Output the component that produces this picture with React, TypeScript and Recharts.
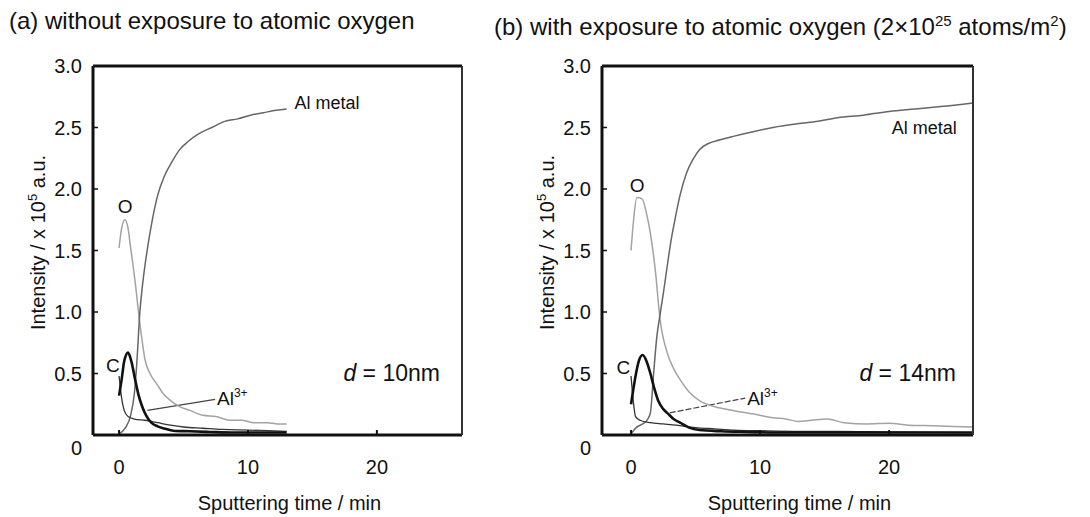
import React from "react";
import { LineChart, Line, XAxis, YAxis, ReferenceDot, ReferenceLine } from "recharts";

const FONT = '"Liberation Sans", Arial, Helvetica, sans-serif';

// (a) without exposure to atomic oxygen
const aAlTime = [0, 0.5, 0.9, 1.2, 1.4, 1.6, 1.8, 2.0, 2.3, 2.6, 3.0, 3.5, 4.1, 4.7, 5.4, 6.2, 7.2, 8.2, 9.2, 10.2, 11.2, 12.2, 13.0];
const aAlMetal = [0.01, 0.06, 0.16, 0.35, 0.62, 0.98, 1.2, 1.37, 1.58, 1.76, 1.95, 2.1, 2.22, 2.32, 2.39, 2.45, 2.5, 2.55, 2.57, 2.6, 2.62, 2.64, 2.65];
const aOTime = [0, 0.2, 0.45, 0.7, 0.9, 1.1, 1.3, 1.55, 1.8, 2.0, 2.4, 2.9, 3.4, 4.0, 4.7, 5.5, 6.5, 7.5, 8.6, 9.5, 10.5, 11.5, 12.3, 13.0];
const aOxygen = [1.52, 1.68, 1.75, 1.68, 1.52, 1.37, 1.2, 0.96, 0.76, 0.62, 0.5, 0.42, 0.34, 0.28, 0.23, 0.2, 0.16, 0.15, 0.12, 0.12, 0.1, 0.1, 0.09, 0.09];
const aCTime = [0, 0.2, 0.4, 0.7, 0.95, 1.25, 1.5, 1.8, 2.1, 2.5, 3.0, 3.6, 4.2, 5.5, 7.0, 9.0, 11.0, 13.0];
const aCarbon = [0.32, 0.45, 0.6, 0.67, 0.6, 0.45, 0.33, 0.23, 0.16, 0.1, 0.07, 0.05, 0.035, 0.03, 0.025, 0.02, 0.02, 0.02];
const aAl3Time = [0, 0.2, 0.4, 0.7, 1.2, 2.0, 3.0, 4.0, 5.0, 6.5, 8.0, 10.0, 11.5, 13.0];
const aAl3 = [0.48, 0.3, 0.2, 0.15, 0.13, 0.12, 0.1, 0.08, 0.065, 0.055, 0.045, 0.04, 0.035, 0.03];

// (b) with exposure to atomic oxygen
const bAlTime = [0, 0.4, 0.9, 1.3, 1.5, 1.75, 2.0, 2.25, 2.5, 2.8, 3.1, 3.4, 3.8, 4.3, 4.8, 5.3, 6.0, 6.9, 8.0, 9.2, 11.0, 12.9, 14.5, 16.0, 18.0, 20.0, 22.0, 24.0, 26.5];
const bAlMetal = [0.01, 0.06, 0.09, 0.13, 0.18, 0.5, 0.8, 0.98, 1.15, 1.37, 1.58, 1.75, 1.95, 2.13, 2.24, 2.32, 2.37, 2.4, 2.43, 2.46, 2.5, 2.53, 2.55, 2.58, 2.6, 2.63, 2.65, 2.67, 2.7];
const bOTime = [0, 0.2, 0.45, 0.85, 1.2, 1.5, 1.9, 2.25, 2.8, 3.3, 3.8, 4.5, 5.3, 6.5, 7.9, 9.5, 11.0, 12.0, 13.0, 14.0, 15.2, 16.5, 18.3, 20.0, 21.5, 23.4, 25.0, 26.5];
const bOxygen = [1.5, 1.75, 1.93, 1.92, 1.8, 1.64, 1.32, 0.94, 0.67, 0.54, 0.45, 0.35, 0.28, 0.23, 0.2, 0.17, 0.14, 0.13, 0.11, 0.12, 0.13, 0.1, 0.09, 0.095, 0.08, 0.075, 0.07, 0.065];
const bCTime = [0, 0.3, 0.6, 0.9, 1.2, 1.5, 1.8, 2.1, 2.5, 2.8, 3.3, 3.8, 4.5, 5.3, 7.0, 9.0, 12.0, 16.0, 20.0, 26.5];
const bCarbon = [0.25, 0.45, 0.6, 0.65, 0.6, 0.5, 0.38, 0.28, 0.21, 0.18, 0.13, 0.1, 0.06, 0.04, 0.03, 0.025, 0.02, 0.02, 0.02, 0.02];
const bAl3Time = [0, 0.15, 0.35, 0.7, 1.5, 2.5, 3.5, 5.0, 6.5, 8.0, 10.0, 13.0, 16.0, 20.0, 26.5];
const bAl3 = [0.48, 0.3, 0.15, 0.12, 0.1, 0.09, 0.08, 0.06, 0.05, 0.04, 0.035, 0.03, 0.03, 0.025, 0.02];

const yTicks = [0, 0.5, 1, 1.5, 2, 2.5, 3];
const xTicks = [0, 10, 20];

type Pt = { t: number; v: number };
const pts = (t: number[], v: number[]): Pt[] => t.map((x, i) => ({ t: x, v: v[i] }));

function note(key: string, t: number, v: number, content: React.ReactNode, size = 19, anchor: "start" | "middle" = "start") {
  return (
    <ReferenceDot
      key={key}
      x={t}
      y={v}
      r={0}
      shape={(p: any) => (
        <text x={p.cx} y={p.cy} dy="0.36em" textAnchor={anchor} fontSize={size} fontFamily={FONT} fill="#111">
          {content}
        </text>
      )}
    />
  );
}

const al3Text = (
  <>
    Al<tspan dy={-8} fontSize={12}>3+</tspan>
  </>
);

function BottomTick(p: any) {
  return (
    <g>
      <line x1={p.x} x2={p.x} y1={p.y} y2={p.y - 5} stroke="#111" strokeWidth={2} />
      <text x={p.x} y={p.y + 32} dy="0.36em" textAnchor="middle" fontSize={20} fontFamily={FONT} fill="#111">
        {p.payload.value}
      </text>
    </g>
  );
}

function TopTick(p: any) {
  return <line x1={p.x} x2={p.x} y1={p.y} y2={p.y + 5} stroke="#111" strokeWidth={2} />;
}

function LeftTick(p: any) {
  const v = p.payload.value;
  return (
    <g>
      {v > 0 && v < 3 && <line x1={p.x} x2={p.x + 5} y1={p.y} y2={p.y} stroke="#111" strokeWidth={1.5} />}
      <text x={p.x - 11} y={p.y + (v === 0 ? 13 : 0)} dy="0.36em" textAnchor="end" fontSize={20} fontFamily={FONT} fill="#111">
        {v === 0 ? "0" : v.toFixed(1)}
      </text>
    </g>
  );
}

type PanelProps = {
  left: number;
  width: number;
  axisWidth: number;
  rightWidth: number;
  xMin: number;
  xMax: number;
  alMetal: Pt[];
  oxygen: Pt[];
  carbon: Pt[];
  al3: Pt[];
  notes: React.ReactNode[];
  leader: [Pt, Pt];
  leaderDash?: string;
};

function Panel(props: PanelProps) {
  const { left, width, axisWidth, rightWidth, xMin, xMax } = props;
  return (
    <div style={{ position: "absolute", left, top: 0 }}>
      <LineChart width={width} height={517} margin={{ top: 0, right: 0, bottom: 0, left: 0 }}>
        <XAxis
          xAxisId={0}
          dataKey="t"
          type="number"
          domain={[xMin, xMax]}
          allowDataOverflow
          ticks={xTicks}
          interval={0}
          height={82}
          tickSize={0}
          tickMargin={0}
          tick={<BottomTick />}
          axisLine={{ stroke: "#111", strokeWidth: 3 }}
          label={(lp: any) => {
            const vb = lp.viewBox;
            return (
              <text x={vb.x + vb.width / 2 + 12} y={vb.y + 68} dy="0.36em" textAnchor="middle" fontSize={20} fontFamily={FONT} fill="#111">
                Sputtering time / min
              </text>
            );
          }}
        />
        <XAxis
          xAxisId="top"
          orientation="top"
          type="number"
          domain={[xMin, xMax]}
          allowDataOverflow
          ticks={xTicks}
          interval={0}
          height={66}
          tickSize={0}
          tickMargin={0}
          tick={<TopTick />}
          axisLine={{ stroke: "#111", strokeWidth: 3 }}
        />
        <YAxis
          yAxisId={0}
          type="number"
          domain={[0, 3]}
          ticks={yTicks}
          interval={0}
          width={axisWidth}
          tickSize={0}
          tickMargin={0}
          tick={<LeftTick />}
          axisLine={{ stroke: "#111", strokeWidth: 3 }}
          label={(lp: any) => {
            const vb = lp.viewBox;
            const cx = vb.x + vb.width - 55;
            const cy = vb.y + vb.height / 2 - 8;
            return (
              <text x={cx} y={cy} dy="0.36em" transform={`rotate(-90 ${cx} ${cy})`} textAnchor="middle" fontSize={20} fontFamily={FONT} fill="#111">
                Intensity / x 10<tspan dy={-8} fontSize={13}>5</tspan>
                <tspan dy={8}> a.u.</tspan>
              </text>
            );
          }}
        />
        <YAxis
          yAxisId="right"
          orientation="right"
          type="number"
          domain={[0, 3]}
          ticks={yTicks}
          width={rightWidth}
          tick={false}
          tickLine={false}
          axisLine={{ stroke: "#333", strokeWidth: 2 }}
        />
        <ReferenceLine
          segment={[
            { x: props.leader[0].t, y: props.leader[0].v },
            { x: props.leader[1].t, y: props.leader[1].v },
          ]}
          stroke="#444"
          strokeWidth={1.2}
          strokeDasharray={props.leaderDash}
        />
        <Line data={props.oxygen} dataKey="v" type="monotone" stroke="#a3a3a3" strokeWidth={1.5} dot={false} isAnimationActive={false} />
        <Line data={props.alMetal} dataKey="v" type="monotone" stroke="#666" strokeWidth={1.5} dot={false} isAnimationActive={false} />
        <Line data={props.al3} dataKey="v" type="monotone" stroke="#333" strokeWidth={1.3} dot={false} isAnimationActive={false} />
        <Line data={props.carbon} dataKey="v" type="monotone" stroke="#111" strokeWidth={2.6} dot={false} isAnimationActive={false} />
        {props.notes}
      </LineChart>
    </div>
  );
}

export default function App() {
  const titleStyle: React.CSSProperties = {
    position: "absolute",
    top: 9,
    fontSize: 24,
    lineHeight: "24px",
    fontFamily: FONT,
    color: "#111",
    whiteSpace: "nowrap",
  };
  return (
    <div style={{ position: "absolute", left: 0, top: 0, width: 1090, height: 517, background: "#fff", overflow: "hidden" }}>
      <div style={{ ...titleStyle, left: 9 }}>(a) without exposure to atomic oxygen</div>
      <div style={{ ...titleStyle, left: 494 }}>
        (b) with exposure to atomic oxygen (2×10<sup style={{ fontSize: 15 }}>25</sup> atoms/m<sup style={{ fontSize: 15 }}>2</sup>)
      </div>
      <Panel
        left={0}
        width={520}
        axisWidth={93}
        rightWidth={58}
        xMin={-2.02}
        xMax={26.6}
        alMetal={pts(aAlTime, aAlMetal)}
        oxygen={pts(aOTime, aOxygen)}
        carbon={pts(aCTime, aCarbon)}
        al3={pts(aAl3Time, aAl3)}
        leader={[
          { t: 2.2, v: 0.2 },
          { t: 7.45, v: 0.29 },
        ]}
        notes={[
          note("o", 0.47, 1.86, "O", 19, "middle"),
          note("c", -0.47, 0.57, "C", 19, "middle"),
          note("al3", 7.6, 0.3, al3Text),
          note("alm", 13.6, 2.7, "Al metal", 18),
          note(
            "d",
            17.4,
            0.51,
            <>
              <tspan fontStyle="italic">d</tspan> = 10nm
            </>,
            23
          ),
        ]}
      />
      <Panel
        left={520}
        width={570}
        axisWidth={82}
        rightWidth={117}
        xMin={-2.25}
        xMax={26.5}
        alMetal={pts(bAlTime, bAlMetal)}
        oxygen={pts(bOTime, bOxygen)}
        carbon={pts(bCTime, bCarbon)}
        al3={pts(bAl3Time, bAl3)}
        leader={[
          { t: 3.0, v: 0.18 },
          { t: 8.85, v: 0.3 },
        ]}
        leaderDash="6 2"
        notes={[
          note("o", 0.47, 2.03, "O", 19, "middle"),
          note("c", -0.6, 0.55, "C", 19, "middle"),
          note("al3", 9.0, 0.3, al3Text),
          note("alm", 20.2, 2.5, "Al metal", 18),
          note(
            "d",
            17.7,
            0.51,
            <>
              <tspan fontStyle="italic">d</tspan> = 14nm
            </>,
            23
          ),
        ]}
      />
    </div>
  );
}
